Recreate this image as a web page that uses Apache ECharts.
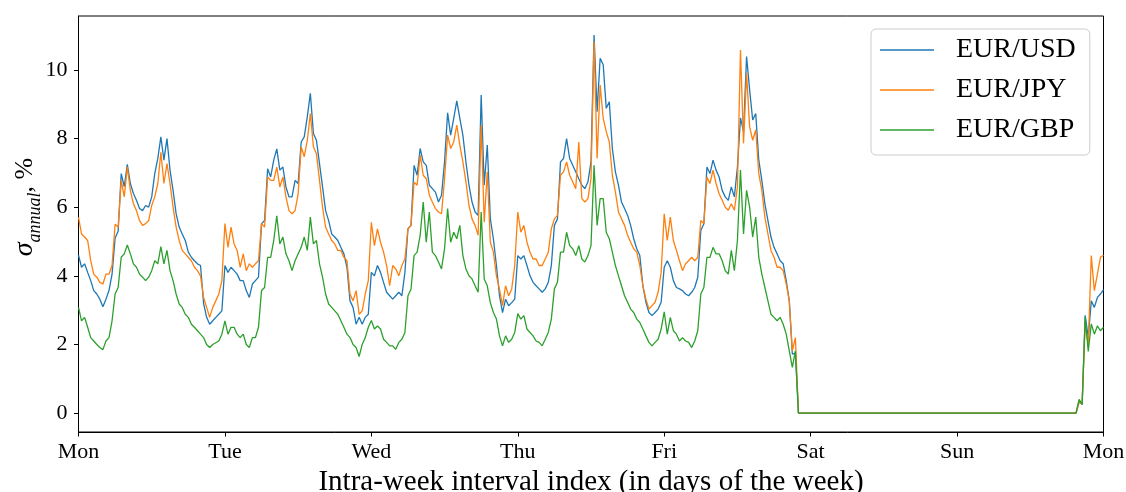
<!DOCTYPE html>
<html>
<head>
<meta charset="utf-8">
<script src="https://cdn.jsdelivr.net/npm/echarts@6/dist/echarts.min.js"></script>
<style>
  html, body { margin: 0; padding: 0; background: #fff; }
  #chart { width: 1126px; height: 492px; }
</style>
</head>
<body>
<div id="chart"></div>
<script>
// ---- tick labels ----
const dayNames = ['Mon', 'Tue', 'Wed', 'Thu', 'Fri', 'Sat', 'Sun', 'Mon'];
const yTicks = [0, 2, 4, 6, 8, 10];
const seriesNames = ['EUR/USD', 'EUR/JPY', 'EUR/GBP'];

// ---- values: annualised volatility (%), 30-minute steps from 00:00 of each day ----
// EUR/USD
const usdMon = [4.6,4.25,4.35,4.1,3.86,3.57,3.47,3.32,3.1,3.32,3.57,4.05,5.1,5.3,6.98,6.6,7.25,6.69,6.4,6.2,5.96,5.9,6.05,6.0,6.3,6.98,7.42,8.05,7.37,8.0,7.08,6.49,5.81,5.42,5.22,5.03,4.69,4.54,4.44,4.35,4.3,3.2,2.79,2.59,2.69,2.79,2.88,2.98];
const usdTue = [4.3,4.1,4.25,4.15,4.05,3.86,3.86,3.57,3.37,3.76,3.86,3.96,5.52,5.61,7.12,6.88,7.37,7.7,7.08,7.17,6.59,6.3,6.3,6.78,6.69,7.9,8.05,8.63,9.32,8.15,7.95,7.27,6.59,5.9,5.61,5.22,5.13,5.03,4.83,4.64,4.25,3.27,3.08,2.59,2.79,2.59,2.79,2.88];
const usdWed = [4.1,4.0,4.3,4.1,3.81,3.52,3.42,3.32,3.42,3.52,3.42,4.1,5.37,5.47,7.22,6.93,7.71,7.32,7.22,6.64,6.54,6.44,6.15,6.35,7.32,8.75,8.1,8.59,9.1,8.59,8.1,7.32,6.64,6.15,5.86,5.76,9.27,6.64,7.81,5.66,5.08,4.3,3.42,2.93,3.32,3.13,3.22,3.32];
const usdThu = [4.59,4.49,4.59,4.3,4.0,3.81,3.71,3.62,3.52,3.62,3.81,4.3,5.47,5.66,7.32,7.42,8.0,7.42,7.22,7.03,6.83,6.64,6.54,6.74,7.32,11.02,8.78,10.34,10.15,8.88,9.07,7.71,7.03,6.64,6.15,5.96,5.76,5.47,5.08,4.79,4.59,3.71,3.23,2.93,2.84,2.93,3.03,3.23];
const usdFri = [4.25,4.44,4.25,3.86,3.66,3.62,3.57,3.47,3.42,3.52,3.66,3.96,5.32,5.52,7.17,6.98,7.37,7.08,6.88,6.49,6.3,6.2,6.59,6.3,7.17,8.6,8.2,10.39,9.42,8.54,8.73,7.37,6.78,6.1,5.61,5.13,4.83,4.64,4.44,4.35,3.86,3.27,1.72,1.75];
const usdSunReopen = [0.35,0.25,2.85,2.2,3.27,3.08,3.37,3.47,3.6];
// EUR/JPY
const jpyMon = [5.7,5.22,5.13,5.03,4.44,4.05,3.96,3.81,3.76,4.05,4.05,4.3,5.5,5.42,6.78,6.3,7.17,6.49,6.1,5.9,5.61,5.47,5.52,5.61,6.05,6.3,6.69,7.6,6.69,7.27,6.69,6.0,5.42,5.03,4.74,4.64,4.54,4.44,4.25,4.15,4.0,3.37,3.08,2.79,3.08,3.27,3.47,3.86];
const jpyTue = [5.52,4.83,5.42,4.93,4.74,4.25,4.64,4.15,4.35,4.25,4.35,4.44,5.52,5.42,6.88,6.78,6.78,7.17,6.59,6.88,6.3,5.9,5.81,5.9,6.39,7.76,7.47,7.95,8.73,7.76,7.56,6.78,6.0,5.42,5.22,5.03,4.93,4.74,4.74,4.54,4.44,3.47,3.27,3.57,2.88,2.98,3.47,3.86];
const jpyWed = [5.56,4.88,5.37,4.98,4.69,4.3,3.71,4.3,4.2,4.0,4.3,4.49,5.37,5.47,6.73,6.64,7.52,6.93,6.83,6.35,6.15,5.96,5.86,5.81,6.83,8.1,7.71,7.9,8.39,7.81,7.32,6.74,6.05,5.66,5.47,5.18,8.39,5.56,7.03,4.98,4.69,4.0,3.61,3.13,3.71,3.42,3.61,4.3];
const jpyThu = [5.86,5.27,5.47,4.98,4.69,4.49,4.49,4.3,4.3,4.49,4.69,5.37,5.66,5.76,6.93,7.03,7.32,6.93,6.74,6.54,7.9,6.25,6.15,6.25,6.83,10.83,7.42,9.56,8.59,8.2,7.9,6.93,6.44,5.86,5.66,5.47,5.18,4.98,4.79,4.69,4.3,3.71,3.32,3.03,3.13,3.23,3.52,4.1];
const jpyFri = [5.81,5.03,5.71,5.03,4.74,4.44,4.15,4.35,4.44,4.54,4.44,4.54,5.61,5.52,6.88,6.69,7.08,6.69,6.39,6.2,6.0,5.91,6.1,5.91,6.59,10.58,7.86,9.9,8.34,7.95,8.25,6.98,6.49,5.71,5.22,4.74,4.54,4.25,4.25,4.15,3.76,3.27,1.81,2.2];
const jpySunReopen = [0.3,0.3,2.6,2.0,4.59,3.57,4.05,4.54,4.6];
// EUR/GBP
const gbpMon = [3.08,2.69,2.79,2.5,2.2,2.1,2.0,1.91,1.85,2.1,2.2,2.69,3.47,3.66,4.54,4.64,4.9,4.64,4.35,4.25,4.05,3.96,3.86,3.96,4.15,4.44,4.35,4.85,4.35,4.74,4.15,3.86,3.47,3.18,3.08,2.88,2.79,2.59,2.5,2.4,2.3,2.2,2.0,1.91,2.0,2.05,2.1,2.3];
const gbpTue = [2.69,2.3,2.5,2.5,2.3,2.2,2.3,2.0,1.91,2.2,2.2,2.5,3.57,3.66,4.54,4.54,5.03,5.75,4.93,5.13,4.64,4.44,4.15,4.44,4.64,4.83,5.13,4.74,5.71,4.93,5.03,4.35,3.96,3.47,3.18,3.08,2.98,2.88,2.69,2.5,2.3,2.2,2.0,1.91,1.65,2.0,2.2,2.5];
const gbpWed = [2.7,2.45,2.54,2.45,2.15,2.06,1.96,1.96,1.86,2.06,2.15,2.35,3.42,3.61,4.59,4.69,5.18,6.15,4.98,5.86,4.69,4.59,4.4,4.2,4.79,5.96,4.98,5.27,5.08,5.47,4.59,4.2,4.0,3.91,3.71,3.52,5.86,3.91,3.71,3.22,2.93,2.74,2.25,1.96,2.25,2.06,2.15,2.35];
const gbpThu = [2.9,2.74,2.84,2.45,2.35,2.25,2.1,2.06,1.96,2.15,2.35,2.74,3.62,3.81,4.69,4.69,5.27,4.88,4.79,4.59,4.88,4.49,4.4,4.59,4.88,7.22,5.47,6.25,6.25,5.27,5.08,4.69,4.3,4.0,3.71,3.42,3.23,3.03,2.93,2.74,2.64,2.45,2.25,2.06,1.96,2.06,2.15,2.45];
const gbpFri = [2.95,2.3,2.79,2.4,2.3,2.1,2.2,2.1,2.06,1.91,2.1,2.4,3.47,3.66,4.54,4.54,4.83,4.64,4.64,4.44,4.15,4.05,4.74,4.15,5.03,7.08,5.22,6.49,6.0,5.13,5.71,4.54,4.05,3.66,3.27,2.88,2.79,2.69,2.79,2.59,2.3,1.81,1.33,1.81];
const gbpSunReopen = [0.4,0.25,2.8,1.8,2.6,2.3,2.54,2.4,2.5];

// market closed (value 0) from Fri 22:00 to Sun 19:30; reopening values start Sun 20:00
const closedLevel = 0;
const stepsPerDay = 48;
const closedFromSlot = [4, 44];   // [day, half-hour slot]
const closedUntilSlot = [6, 39];
const reopenSlot = [6, 40];

const usdDays = [usdMon, usdTue, usdWed, usdThu, usdFri];
const jpyDays = [jpyMon, jpyTue, jpyWed, jpyThu, jpyFri];
const gbpDays = [gbpMon, gbpTue, gbpWed, gbpThu, gbpFri];

function slotToX(s) { return s[0] + s[1] / stepsPerDay; }
function buildSeries(days, reopen) {
  const pts = [];
  days.forEach((vals, d) => vals.forEach((v, i) => pts.push([d + i / stepsPerDay, v])));
  pts.push([slotToX(closedFromSlot), closedLevel]);
  pts.push([slotToX(closedUntilSlot), closedLevel]);
  const x0 = slotToX(reopenSlot);
  reopen.forEach((v, i) => pts.push([x0 + i / stepsPerDay, v]));
  return pts;
}

const colors = ['#1f77b4', '#ff7f0e', '#2ca02c'];
const allData = [buildSeries(usdDays, usdSunReopen), buildSeries(jpyDays, jpySunReopen), buildSeries(gbpDays, gbpSunReopen)];
const FONT = 'Liberation Serif';

const chart = echarts.init(document.getElementById('chart'), null, { renderer: 'canvas' });
chart.setOption({
  animation: false,
  backgroundColor: '#fff',
  grid: {
    left: 78.5, right: 22.5, top: 16, bottom: 60,
    outerBoundsMode: 'none', containLabel: false,
    show: true, borderColor: '#000', borderWidth: 1, backgroundColor: 'transparent'
  },
  legend: {
    data: seriesNames,
    orient: 'vertical',
    left: 871, top: 29,
    icon: 'rect',
    itemWidth: 54, itemHeight: 1.5, itemGap: 10,
    padding: [6, 14, 10, 9],
    borderColor: '#cccccc', borderWidth: 1, borderRadius: 5,
    backgroundColor: 'rgba(255,255,255,0.8)',
    textStyle: { fontFamily: FONT, fontSize: 28, color: '#000', lineHeight: 30, padding: [0, 0, 0, 17] }
  },
  xAxis: {
    type: 'value', min: 0, max: 7, interval: 1,
    axisLine: { show: true, onZero: false, lineStyle: { color: '#000', width: 1 } },
    axisTick: { show: true, inside: false, length: 4.5, lineStyle: { color: '#000', width: 1 } },
    axisLabel: { color: '#000', fontFamily: FONT, fontSize: 22, margin: 9, formatter: v => dayNames[Math.round(v)] },
    splitLine: { show: false },
    name: 'Intra-week interval index (in days of the week)',
    nameLocation: 'middle', nameGap: 34,
    nameTextStyle: { fontFamily: FONT, fontSize: 29, color: '#000' }
  },
  yAxis: {
    type: 'value', min: -0.551, max: 11.571,
    axisLine: { show: true, onZero: false, lineStyle: { color: '#000', width: 1 } },
    axisTick: { show: true, inside: false, length: 4.5, customValues: yTicks, lineStyle: { color: '#000', width: 1 } },
    axisLabel: { color: '#000', fontFamily: FONT, fontSize: 22, margin: 11, customValues: yTicks },
    splitLine: { show: false }
  },
  graphic: [{
    type: 'text',
    x: 25, y: 207,
    rotation: Math.PI / 2,
    style: {
      text: '{s|σ}{sub|annual}{n|, %}',
      textAlign: 'center', textVerticalAlign: 'middle',
      fill: '#000',
      rich: {
        s: { fontFamily: FONT, fontStyle: 'italic', fontSize: 28, lineHeight: 38, verticalAlign: 'middle', fill: '#000' },
        sub: { fontFamily: FONT, fontStyle: 'italic', fontSize: 18, lineHeight: 19, verticalAlign: 'bottom', fill: '#000' },
        n: { fontFamily: FONT, fontSize: 26, lineHeight: 38, verticalAlign: 'middle', fill: '#000' }
      }
    }
  }],
  series: seriesNames.map((name, k) => ({
    name, type: 'line', data: allData[k],
    showSymbol: false, symbol: 'none', sampling: false,
    color: colors[k],
    lineStyle: { color: colors[k], width: 1.3 },
    z: 2 + k
  }))
});
</script>
</body>
</html>
